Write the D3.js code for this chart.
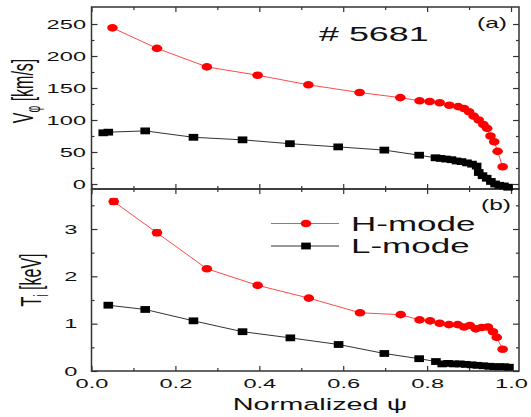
<!DOCTYPE html>
<html>
<head>
<meta charset="utf-8">
<script src="https://cdn.jsdelivr.net/npm/d3@7"></script>
<style>
  body { margin: 0; background: #fff; }
  text { font-family: "Liberation Sans", Arial, sans-serif; fill: #111; }
</style>
</head>
<body>
<svg width="531" height="417"></svg>
<script>
// panel (a): toroidal rotation V_phi [km/s]
const hVx = [0.050, 0.156, 0.275, 0.396, 0.517, 0.639, 0.736, 0.782, 0.806, 0.830, 0.853, 0.874, 0.888, 0.900, 0.911, 0.923, 0.934, 0.943, 0.951, 0.960, 0.968, 0.980];
const hV  = [244, 212, 183, 170, 155, 143, 135, 130, 129, 127, 123, 121, 118, 113, 106, 100, 93, 87, 75, 66, 51, 27];
const lVx = [0.028, 0.040, 0.128, 0.243, 0.360, 0.473, 0.588, 0.698, 0.781, 0.820, 0.832, 0.845, 0.858, 0.870, 0.882, 0.895, 0.907, 0.918, 0.923, 0.932, 0.942, 0.952, 0.962, 0.972, 0.983, 0.993];
const lV  = [80, 81, 83, 73, 69, 63, 58, 53, 45, 41, 40, 39, 38, 36, 35, 33, 31, 28, 18, 13, 9, 4, 0, -2, -3, -5];

// panel (b): ion temperature T_i [keV]
const hTx = [0.053, 0.156, 0.275, 0.396, 0.518, 0.640, 0.737, 0.782, 0.807, 0.830, 0.852, 0.873, 0.888, 0.902, 0.916, 0.930, 0.945, 0.957, 0.966, 0.980];
const hT  = [3.58, 2.92, 2.16, 1.81, 1.54, 1.23, 1.19, 1.08, 1.06, 1.01, 0.98, 0.98, 0.93, 0.96, 0.89, 0.92, 0.93, 0.83, 0.71, 0.46];
const hTerr = [0.06, 0.06, 0.03, 0.03, 0.03, 0.02, 0.02, 0.02, 0.02, 0.02, 0.02, 0.02, 0.02, 0.02, 0.02, 0.02, 0.02, 0.02, 0.02, 0.02];
const lTx = [0.040, 0.128, 0.243, 0.360, 0.474, 0.589, 0.698, 0.781, 0.821, 0.836, 0.850, 0.864, 0.878, 0.892, 0.906, 0.920, 0.934, 0.948, 0.960, 0.972, 0.984, 0.995];
const lT  = [1.39, 1.30, 1.06, 0.83, 0.70, 0.56, 0.37, 0.26, 0.20, 0.15, 0.16, 0.15, 0.15, 0.14, 0.13, 0.12, 0.11, 0.10, 0.09, 0.09, 0.09, 0.08];

const xMajor = [0, 0.2, 0.4, 0.6, 0.8, 1.0];
const xMinor = [0.1, 0.3, 0.5, 0.7, 0.9];
const vMajor = [0, 50, 100, 150, 200, 250];
const vMinor = [25, 75, 125, 175, 225];
const tMajor = [0, 1, 2, 3];
const tMinor = [0.5, 1.5, 2.5, 3.5];
const series = ["H-mode", "L-mode"];

const SX = 1.75; // the original figure is stretched sideways
const L = 91.5, R = 519, TOP = 7, MID = 189, BOT = 371;

const svg = d3.select("svg");
const x = d3.scaleLinear().domain([0, 1.019]).range([L, R]);
const yV = d3.scaleLinear().domain([-7.8, 276.6]).range([MID, TOP]);
const yT = d3.scaleLinear().domain([0, 3.845]).range([BOT, MID]);

function stretchText(sel, size) {
    sel.selectAll("text").attr("font-size", size).attr("transform", `scale(${SX},1)`);
}

function styleAxis(g) {
    g.select(".domain").remove();
    g.selectAll("line").attr("stroke", "#333").attr("stroke-width", 1.2);
}

// x ticks (inward) on all four horizontal edges
function xTicks(pos, axisFn, labels) {
    const maj = svg.append("g").attr("transform", `translate(0,${pos})`)
        .call(axisFn(x).tickValues(xMajor).tickSize(-5).tickPadding(7)
              .tickFormat(labels ? d3.format(".1f") : ""));
    const mn = svg.append("g").attr("transform", `translate(0,${pos})`)
        .call(axisFn(x).tickValues(xMinor).tickSize(-3).tickFormat(""));
    styleAxis(maj); styleAxis(mn);
    if (labels) stretchText(maj, 13.5);
}
xTicks(BOT, d3.axisBottom, true);
xTicks(MID, d3.axisTop, false);
xTicks(MID, d3.axisBottom, false);
xTicks(TOP, d3.axisTop, false);

// y ticks, left labelled, right bare
function yTicks(y, major, minor, gap) {
    const maj = svg.append("g").attr("transform", `translate(${L},0)`)
        .call(d3.axisLeft(y).tickValues(major).tickSize(-6).tickFormat(d3.format("d")));
    const mn = svg.append("g").attr("transform", `translate(${L},0)`)
        .call(d3.axisLeft(y).tickValues(minor).tickSize(-3).tickFormat(""));
    const rMaj = svg.append("g").attr("transform", `translate(${R},0)`)
        .call(d3.axisRight(y).tickValues(major).tickSize(-6).tickFormat(""));
    const rMn = svg.append("g").attr("transform", `translate(${R},0)`)
        .call(d3.axisRight(y).tickValues(minor).tickSize(-3).tickFormat(""));
    [maj, mn, rMaj, rMn].forEach(styleAxis);
    stretchText(maj, 13.5);
    maj.selectAll("text").attr("x", -gap / SX);
}
yTicks(yV, vMajor, vMinor, 5.5);
yTicks(yT, tMajor, tMinor, 14);

// frames
[[TOP, MID], [MID, BOT]].forEach(([a, b]) => {
    svg.append("rect")
        .attr("x", L).attr("y", a).attr("width", R - L).attr("height", b - a)
        .attr("fill", "none").attr("stroke", "#333").attr("stroke-width", 1.5);
});

const colors = {"H-mode": "#ff0000", "L-mode": "#000"};
const lineColors = {"H-mode": "#ff4a4a", "L-mode": "#333"};

function drawSeries(xs, ys, y, name, err) {
    const pts = xs.map((d, i) => ({x: d, y: ys[i], e: err ? err[i] : 0}));
    svg.append("path").datum(pts)
        .attr("fill", "none").attr("stroke", lineColors[name]).attr("stroke-width", 1)
        .attr("d", d3.line().x(d => x(d.x)).y(d => y(d.y)));
    if (err) {
        const eb = svg.append("g").attr("stroke", colors[name]).attr("stroke-width", 1.2);
        eb.selectAll("line.v").data(pts).join("line").attr("class", "v")
            .attr("x1", d => x(d.x)).attr("x2", d => x(d.x))
            .attr("y1", d => y(d.y - d.e)).attr("y2", d => y(d.y + d.e));
        eb.selectAll("line.t").data(pts).join("line").attr("class", "t")
            .attr("x1", d => x(d.x) - 4).attr("x2", d => x(d.x) + 4)
            .attr("y1", d => y(d.y + d.e)).attr("y2", d => y(d.y + d.e));
        eb.selectAll("line.b").data(pts).join("line").attr("class", "b")
            .attr("x1", d => x(d.x) - 4).attr("x2", d => x(d.x) + 4)
            .attr("y1", d => y(d.y - d.e)).attr("y2", d => y(d.y - d.e));
    }
    marker(svg.append("g").selectAll("g").data(pts).join("g")
        .attr("transform", d => `translate(${x(d.x)},${y(d.y)})`), name);
}

function marker(sel, name) {
    if (name === "H-mode") {
        sel.append("ellipse").attr("rx", 5.3).attr("ry", 3.8).attr("fill", colors[name]);
    } else {
        sel.append("rect").attr("x", -4.8).attr("y", -3.4).attr("width", 9.6).attr("height", 6.8)
            .attr("fill", colors[name]);
    }
}

drawSeries(lVx, lV, yV, "L-mode");
drawSeries(hVx, hV, yV, "H-mode");
drawSeries(lTx, lT, yT, "L-mode");
drawSeries(hTx, hT, yT, "H-mode", hTerr);

// stretched free text helper
function label(px, py, str, size, anchor) {
    return svg.append("text")
        .attr("transform", `translate(${px},${py}) scale(${SX},1)`)
        .attr("font-size", size).attr("text-anchor", anchor || "start")
        .text(str);
}

label(319, 41, "# 5681", 20.5);
label(477, 28, "(a)", 14);
label(481, 210, "(b)", 14);
label(320, 410, "Normalized \u03c8", 16.5, "middle");

// legend
const leg = svg.append("g");
series.forEach((s, i) => {
    const ly = 223.5 + i * 22.5;
    leg.append("line").attr("x1", 271).attr("x2", 339).attr("y1", ly).attr("y2", ly)
        .attr("stroke", lineColors[s]).attr("stroke-width", 1);
    marker(leg.append("g").attr("transform", `translate(306,${ly})`), s);
    label(351, ly + 7, s, 20);
});

// rotated y titles
function yTitle(cx, cy, main, sub, rest) {
    const t = svg.append("text")
        .attr("transform", `translate(${cx},${cy}) scale(1.85,1) rotate(-90)`)
        .attr("font-size", 16).attr("text-anchor", "middle");
    t.append("tspan").text(main);
    t.append("tspan").attr("font-size", 10.5).attr("dy", 4).text(sub);
    t.append("tspan").attr("dy", -4).text(rest);
}
yTitle(33, 91, "V", "\u03c6", " [km/s]");
yTitle(41, 280, "T", "i", " [keV]");
</script>
</body>
</html>
